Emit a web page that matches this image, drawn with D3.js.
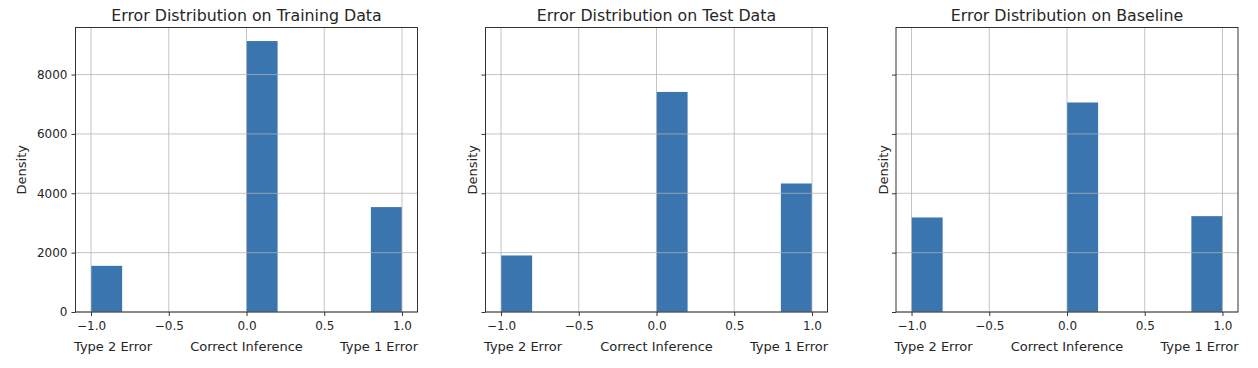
<!DOCTYPE html>
<html>
<head>
<meta charset="utf-8">
<script src="https://cdn.jsdelivr.net/npm/d3@7"></script>
<style>
  body { margin: 0; background: #fff; }
  text { font-family: "DejaVu Sans", sans-serif; fill: #262626; }
</style>
</head>
<body>
<svg id="chart" width="1258" height="368"></svg>
<script>
// histogram bins (10 bins from -1 to 1, only three are non-empty)
var binEdges = [-1, -0.8, -0.6, -0.4, -0.2, 0, 0.2, 0.4, 0.6, 0.8, 1.0];
var titles = ["Error Distribution on Training Data", "Error Distribution on Test Data", "Error Distribution on Baseline"];
var trainCounts = [1555, 0, 0, 0, 0, 9130, 0, 0, 0, 3535];
var testCounts  = [1905, 0, 0, 0, 0, 7415, 0, 0, 0, 4330];
var baseCounts  = [3185, 0, 0, 0, 0, 7060, 0, 0, 0, 3230];
var xTicks = [-1.0, -0.5, 0.0, 0.5, 1.0];
var yTicks = [0, 2000, 4000, 6000, 8000];
var classLabels = ["Type 2 Error", "Correct Inference", "Type 1 Error"];

var series = [trainCounts, testCounts, baseCounts];
var panelLeft = [75.5, 485.5, 896];
var panelW = 342;
var plotTop = 27.5, plotBottom = 312;
var tickFont = "12px";
var labelFont = "13px";

var svg = d3.select("#chart");

// shared y scale (sharey like matplotlib subplots)
var ymax = d3.max(series, function(s){ return d3.max(s) }) * 1.05;
var y = d3.scaleLinear().domain([0, ymax]).range([plotBottom, plotTop]);

series.forEach(function(counts, i) {
  var x0 = panelLeft[i];
  var x = d3.scaleLinear().domain([-1.1, 1.1]).range([x0, x0 + panelW]);
  var g = svg.append("g");

  var bins = counts.map(function(c, j){ return {x0: binEdges[j], x1: binEdges[j+1], n: c} })
    .filter(function(d){ return d.n > 0 });

  g.selectAll("rect.bar")
    .data(bins)
    .enter()
    .append("rect")
    .attr("class", "bar")
    .attr("x", function(d){ return x(d.x0) })
    .attr("width", function(d){ return x(d.x1) - x(d.x0) })
    .attr("y", function(d){ return y(d.n) })
    .attr("height", function(d){ return y(0) - y(d.n) })
    .attr("fill", "#3a75b0");

  // grid is drawn above the bars
  g.selectAll("line.vg")
    .data(xTicks)
    .enter()
    .append("line")
    .attr("x1", function(d){ return x(d) }).attr("x2", function(d){ return x(d) })
    .attr("y1", plotTop).attr("y2", plotBottom)
    .attr("stroke", "#b0b0b0").attr("stroke-opacity", 0.75).attr("stroke-width", 1);

  g.selectAll("line.hg")
    .data(yTicks)
    .enter()
    .append("line")
    .attr("x1", x0).attr("x2", x0 + panelW)
    .attr("y1", function(d){ return y(d) }).attr("y2", function(d){ return y(d) })
    .attr("stroke", "#b0b0b0").attr("stroke-opacity", 0.75).attr("stroke-width", 1);

  // axes
  var xAxis = d3.axisBottom(x).tickValues(xTicks).tickSize(4).tickPadding(5)
    .tickFormat(function(d){ return d3.format(".1f")(d).replace("-", "\u2212") });
  var gx = g.append("g").attr("transform", "translate(0," + plotBottom + ")").call(xAxis);
  gx.select(".domain").remove();
  gx.selectAll("line").attr("stroke", "#333");
  gx.selectAll("text").style("font-size", tickFont).attr("fill", "#262626");

  var yAxis = d3.axisLeft(y).tickValues(yTicks).tickSize(4).tickPadding(4)
    .tickFormat(i == 0 ? d3.format("d") : function(){ return "" });
  var gy = g.append("g").attr("transform", "translate(" + x0 + ",0)").call(yAxis);
  gy.select(".domain").remove();
  gy.selectAll("line").attr("stroke", "#333");
  gy.selectAll("text").style("font-size", tickFont).attr("fill", "#262626");

  // frame
  g.append("rect")
    .attr("x", x0).attr("y", plotTop)
    .attr("width", panelW).attr("height", plotBottom - plotTop)
    .attr("fill", "none").attr("stroke", "#333").attr("stroke-width", 1);

  g.append("text")
    .attr("x", x0 + panelW / 2).attr("y", 21)
    .attr("text-anchor", "middle")
    .style("font-size", "15.8px")
    .text(titles[i]);

  g.append("text")
    .attr("transform", "translate(" + (i == 0 ? 25.5 : x0 - 8.5) + "," + ((plotTop + plotBottom) / 2) + ") rotate(-90)")
    .attr("text-anchor", "middle")
    .style("font-size", labelFont)
    .text("Density");

  // class names under the x axis
  var anchors = ["start", "middle", "end"];
  var lx = [x0 - 1.5, x0 + panelW / 2, x0 + panelW + 0.5];
  classLabels.forEach(function(t, k) {
    g.append("text")
      .attr("x", lx[k]).attr("y", 351)
      .attr("text-anchor", anchors[k])
      .style("font-size", labelFont)
      .text(t);
  });
});
</script>
</body>
</html>
